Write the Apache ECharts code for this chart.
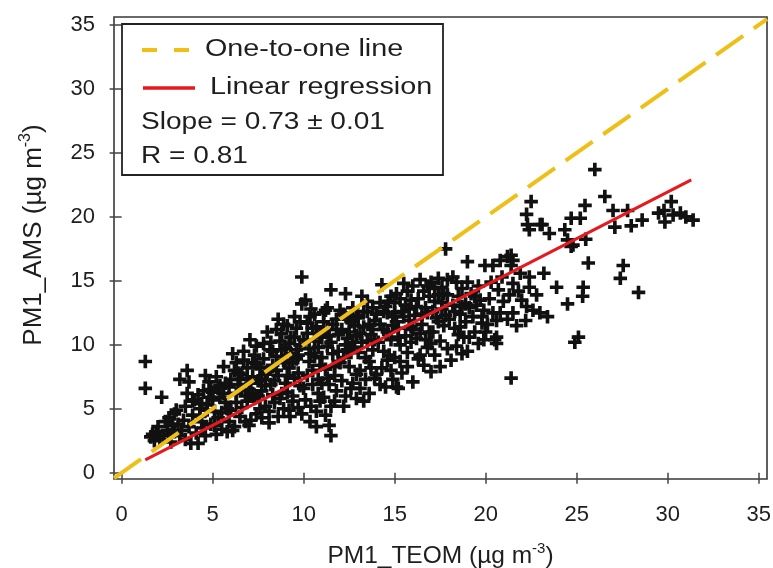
<!DOCTYPE html>
<html>
<head>
<meta charset="utf-8">
<script src="https://cdn.jsdelivr.net/npm/echarts@6/dist/echarts.min.js"></script>
<style>html,body{margin:0;padding:0;background:#fff}#chart{width:773px;height:568px}</style>
</head>
<body>
<div id="chart"></div>
<script>
// ---- data ----
const xTicks = [0, 5, 10, 15, 20, 25, 30, 35];
const yTicks = [0, 5, 10, 15, 20, 25, 30, 35];
const xTitle = 'PM1_TEOM (µg m';
const yTitle = 'PM1_AMS (µg m';
const legendLabels = ['One-to-one line', 'Linear regression', 'Slope = 0.73 ± 0.01', 'R = 0.81'];
const oneToOneLine = [[-0.42, -0.42], [35.46, 35.46]];
const regressionLine = [[1.3, 1.0], [31.3, 22.9]];
// PM1_TEOM (x) vs PM1_AMS (y) pairs
const scatterPoints = [
  [1.3,8.7],[1.3,6.6],[1.6,2.8],[1.9,3.2],[1.8,2.5],[2.0,3.6],[1.7,3.0],
  [2.2,5.9],[2.4,4.0],[2.6,4.3],[2.1,2.6],[2.5,3.3],[2.8,3.7],[2.3,2.9],[2.7,2.4],[2.9,4.6],[2.6,3.0],[2.9,3.2],
  [3.0,4.9],[3.2,7.3],[3.6,8.0],[3.7,7.1],[3.6,6.2],[3.5,5.2],[3.3,3.3],[3.8,2.3],[3.4,4.1],[3.9,4.5],[3.1,3.8],[3.7,3.6],[3.5,2.6],[3.9,5.6],[3.2,2.9],
  [4.0,5.7],[4.6,7.6],[4.8,7.1],[4.9,6.5],[4.2,2.3],[4.3,4.4],[4.5,3.5],[4.1,3.1],[4.7,4.9],[4.4,5.4],[4.9,3.8],[4.6,2.9],[4.2,6.1],[4.8,5.9],[4.4,4.0],
  [4.3,5.0],[4.7,5.3],[5.0,6.3],[5.4,6.8],[5.7,5.5],[4.5,6.4],[5.1,3.7],
  [5.0,5.7],[5.2,7.5],[5.6,6.2],[5.3,4.3],[5.5,3.4],[5.8,5.0],[5.1,4.8],[5.7,7.0],[5.4,5.9],[5.9,4.0],[5.2,3.0],[5.6,8.3],[5.9,6.7],[5.3,6.6],[5.8,3.2],[5.5,4.7],
  [6.0,7.3],[6.2,8.0],[6.1,9.3],[6.7,8.8],[6.3,5.5],[6.5,4.4],[6.8,6.0],[6.4,6.9],[6.9,7.4],[6.2,3.6],[6.6,5.1],[6.0,4.9],[6.8,4.0],[6.4,7.8],[6.9,5.6],[6.6,6.5],[6.3,6.2],[6.1,3.3],[6.7,9.5],
  [6.5,7.3],[6.9,8.2],[7.1,7.0],[7.4,8.5],[7.7,7.3],[6.3,8.6],[7.2,6.2],[6.6,7.7],
  [7.05,10.4],[7.8,10.1],[7.2,8.6],[7.5,7.2],[7.0,6.5],[7.3,5.8],[7.7,6.4],[7.9,5.2],[7.4,4.6],[7.6,8.2],[7.1,4.1],[7.9,7.7],[7.3,9.2],[7.6,5.0],[7.8,8.9],[7.2,7.5],[7.5,6.0],[7.0,3.7],[7.7,4.3],[7.4,9.9],[7.9,6.8],
  [8.15,9.6],[8.5,9.1],[8.0,11.0],[8.3,8.4],[8.6,7.6],[8.2,6.9],[8.8,6.2],[8.4,5.5],[8.9,5.0],[8.1,4.8],[8.7,10.3],[8.5,11.2],[8.0,7.9],[8.9,8.8],[8.3,6.1],[8.6,4.4],[8.2,10.2],[8.8,9.6],[8.4,7.2],[8.7,5.8],[8.1,3.9],[8.6,12.0],
  [8.3,9.5],[8.8,10.9],[9.2,10.1],[9.4,8.6],[9.7,9.2],[8.5,8.0],[9.1,7.6],[8.9,11.6],[9.8,11.8],[9.5,10.6],
  [9.25,4.4],[9.0,9.8],[9.3,10.6],[9.6,11.3],[9.9,13.2],[9.9,15.3],[9.2,8.2],[9.5,7.4],[9.8,6.8],[9.1,6.3],[9.4,5.6],[9.7,5.1],[9.0,7.0],[9.6,8.9],[9.3,9.3],[9.8,10.0],[9.5,12.2],[9.1,11.5],[9.7,7.8],[9.4,6.0],[9.9,4.6],[9.2,4.9],[9.6,9.6],[9.0,8.6],
  [10.1,13.5],[10.35,12.2],[10.7,11.4],[10.35,4.0],[10.0,10.4],[10.3,9.7],[10.6,9.1],[10.9,8.4],[10.2,7.6],[10.5,6.9],[10.8,6.2],[10.1,5.7],[10.4,5.2],[10.7,4.8],[10.9,10.9],[10.2,11.7],[10.5,8.0],[10.8,7.3],[10.0,6.6],[10.6,10.3],[10.3,8.7],[10.9,5.6],[10.4,12.8],[10.7,3.6],
  [10.2,10.9],[10.5,11.3],[10.8,9.8],[11.1,11.8],[11.4,10.7],[11.7,8.3],[10.4,9.3],[11.0,9.0],[11.8,11.2],[11.3,12.9],[10.6,12.4],
  [11.1,12.5],[11.3,11.2],[11.5,14.3],[11.2,12.7],[11.5,5.2],[11.4,3.7],[11.5,2.9],[11.0,10.6],[11.3,9.9],[11.6,9.3],[11.9,8.7],[11.2,8.1],[11.7,7.6],[11.4,6.9],[11.8,6.4],[11.1,5.9],[11.6,11.6],[11.9,10.8],[11.3,7.4],[11.8,12.0],[11.0,7.0],[11.7,5.6],[11.5,10.2],[11.9,9.5],[11.2,4.5],
  [12.0,12.7],[12.3,14.0],[12.7,12.9],[12.1,11.2],[12.4,10.5],[12.8,9.8],[12.2,9.0],[12.5,8.3],[12.9,7.7],[12.1,7.2],[12.6,6.6],[12.3,6.0],[12.8,11.5],[12.4,12.1],[12.9,10.7],[12.0,8.6],[12.6,9.4],[12.2,5.2],[12.7,7.0],[12.5,11.0],[12.9,5.8],[12.3,10.0],
  [12.2,12.4],[12.6,11.8],[12.9,12.3],[13.3,12.6],[13.6,11.6],[13.9,10.4],[12.4,9.6],[13.1,10.9],[12.7,10.2],[13.5,13.4],[13.8,11.2],
  [13.2,13.8],[13.6,8.7],[13.1,8.0],[13.4,7.3],[13.0,12.1],[13.3,11.4],[13.7,10.8],[13.5,12.6],[13.9,11.9],[13.2,10.2],[13.8,9.6],[13.4,9.0],[13.1,6.6],[13.6,6.2],[13.9,7.4],[13.0,9.4],[13.5,10.3],[13.8,12.9],[13.3,5.6],[13.7,8.2],
  [14.3,14.7],[14.65,13.4],[14.5,6.7],[14.9,7.3],[14.6,8.8],[14.0,12.4],[14.2,11.6],[14.6,11.0],[14.9,12.2],[14.1,10.2],[14.4,9.5],[14.8,10.4],[14.3,8.2],[14.7,9.2],[14.0,7.7],[14.5,13.0],[14.9,11.5],[14.2,6.9],[14.8,8.0],[14.4,12.6],
  [14.2,13.3],[14.6,12.5],[15.0,12.5],[15.3,13.6],[15.6,13.1],[15.9,11.4],[14.4,11.2],[14.8,13.8],[15.2,10.6],[15.7,14.2],
  [15.1,6.7],[15.2,6.6],[15.5,14.8],[15.1,14.0],[15.3,8.7],[15.7,8.3],[15.0,13.3],[15.4,12.6],[15.8,11.9],[15.2,11.3],[15.6,10.7],[15.9,13.5],[15.3,10.0],[15.7,9.4],[15.0,9.0],[15.5,12.2],[15.9,10.2],[15.4,7.8],[15.8,12.8],[15.1,11.8],
  [16.0,7.1],[16.4,15.1],[16.6,8.4],[16.0,14.6],[16.3,13.6],[16.7,12.9],[16.1,12.3],[16.5,11.6],[16.9,11.0],[16.2,10.5],[16.8,9.8],[16.4,9.2],[16.9,13.8],[16.6,14.2],[16.0,11.2],[16.7,10.4],[16.3,8.9],[16.8,12.5],
  [16.2,13.0],[16.5,12.4],[16.8,14.6],[17.1,12.6],[17.4,11.8],[17.7,14.0],[16.4,10.9],[17.2,14.4],[17.6,13.3],
  [17.0,14.9],[17.4,15.2],[17.6,14.5],[17.9,15.1],[17.8,17.5],[17.5,8.3],[17.0,7.9],[17.2,13.4],[17.6,12.8],[17.9,13.9],[17.3,12.1],[17.7,11.5],[17.1,11.0],[17.5,10.3],[17.9,9.7],[17.2,9.2],[17.8,12.3],[17.4,13.9],[17.0,10.1],
  [18.1,8.8],[18.5,13.8],[18.7,14.4],[18.2,13.1],[18.6,12.4],[18.9,11.8],[18.3,11.3],[18.8,10.6],[18.4,9.9],[18.9,13.2],[18.0,12.0],[18.5,10.8],[18.2,15.3],[18.7,9.3],[18.4,14.9],
  [18.3,12.6],[18.7,13.0],[19.1,12.9],[19.4,13.8],[18.6,11.4],[19.8,12.2],
  [19.0,16.5],[19.0,14.9],[19.0,9.5],[19.6,10.1],[19.9,10.4],[19.96,16.2],[19.7,13.5],[19.9,12.7],[19.3,12.2],[19.5,13.1],[19.8,11.7],[19.4,11.0],[19.2,14.0],[19.6,14.6],[19.1,10.6],[20.0,11.0],
  [20.4,16.2],[20.8,16.6],[20.2,13.6],[20.4,12.5],[20.8,12.5],[20.6,11.9],[20.5,10.4],[20.6,10.6],[20.6,10.1],[20.3,14.9],[20.7,14.3],[20.9,15.3],[20.1,11.6],[20.97,13.4],
  [21.2,16.9],[21.5,16.6],[21.4,16.2],[21.4,17.0],[21.5,14.8],[21.9,15.6],[21.5,12.5],[21.98,13.5],[21.4,7.4],[21.3,13.9],[21.7,11.5],[21.2,12.0],[21.8,14.2],
  [22.5,21.2],[22.25,20.2],[22.3,19.4],[22.4,19.0],[22.4,15.3],[22.4,14.5],[22.25,13.0],[22.6,12.7],[22.98,12.5],[22.8,13.9],[22.2,11.9],
  [23.1,19.4],[23.5,18.7],[23.2,15.6],[23.9,14.5],[23.4,12.2],[23.0,19.4],
  [24.35,19.0],[24.5,18.2],[24.7,17.7],[24.8,17.8],[24.7,19.9],[24.5,13.2],[24.9,10.2],
  [25.2,19.9],[25.46,20.9],[25.5,18.25],[25.64,16.4],[25.36,14.5],[25.33,13.8],[25.1,10.6],[26.0,23.7],
  [26.55,21.6],[27.0,20.5],[27.1,19.2],[27.56,16.2],[27.4,15.2],[27.8,20.5],[28.0,19.3],[28.4,14.1],[28.6,19.75],
  [29.5,20.3],[29.8,20.5],[29.85,19.6],[30.2,21.2],[30.3,20.15],[30.7,20.3],[31.0,20.0],[31.4,19.75]
];

// ---- chart ----
const FONT = '"Liberation Sans", Arial, sans-serif';
const TXT = '#1e1e1e';
const PLUS = 'path://M3.65,0H6.35V3.65H10V6.35H6.35V10H3.65V6.35H0V3.65H3.65Z';
const chart = echarts.init(document.getElementById('chart'), null, { renderer: 'canvas' });

const LX = 122, LY = 24, LW = 321, LH = 151;
chart.setOption({
  animation: false,
  backgroundColor: '#fff',
  grid: { left: 114, top: 17, right: 6, bottom: 89, containLabel: false, outerBoundsMode: 'none',
    show: true, borderColor: '#383838', borderWidth: 1.6, backgroundColor: 'transparent' },
  xAxis: {
    type: 'value', min: -0.42, max: 35.46,
    axisLine: { show: false },
    splitLine: { show: false },
    axisTick: { show: true, inside: false, length: 11, customValues: xTicks, lineStyle: { color: '#444', width: 1.5 } },
    axisLabel: { customValues: xTicks, fontSize: 22, fontFamily: FONT, color: TXT, margin: 25 },
    name: xTitle + '{sup|-3})', nameLocation: 'middle', nameGap: 62,
    nameTextStyle: { fontSize: 24.5, fontFamily: FONT, color: TXT, lineHeight: 30,
      rich: { sup: { fontSize: 15, fontFamily: FONT, color: TXT, verticalAlign: 'top', lineHeight: 30 } } }
  },
  yAxis: {
    type: 'value', min: -0.49, max: 35.63,
    axisLine: { show: false },
    splitLine: { show: false },
    axisTick: { show: true, inside: false, length: 12, customValues: yTicks, lineStyle: { color: '#444', width: 1.5 } },
    axisLabel: { customValues: yTicks, fontSize: 22, fontFamily: FONT, color: TXT, margin: 19 },
    name: yTitle + '{sup|-3})', nameLocation: 'middle', nameGap: 64, nameRotate: 90,
    nameTextStyle: { fontSize: 26, fontFamily: FONT, color: TXT, lineHeight: 32, padding: [0, 0, 0, 26],
      rich: { sup: { fontSize: 16, fontFamily: FONT, color: TXT, verticalAlign: 'top', lineHeight: 32 } } }
  },
  series: [
    {
      type: 'scatter', name: 'data', data: scatterPoints,
      symbol: PLUS, symbolSize: 13.5,
      itemStyle: { color: '#111', opacity: 1 }, z: 2
    },
    {
      type: 'line', name: legendLabels[0], data: oneToOneLine, symbol: 'none',
      lineStyle: { color: '#EFBE17', width: 4, type: [33, 13] }, z: 3
    },
    {
      type: 'line', name: legendLabels[1], data: regressionLine, symbol: 'none',
      lineStyle: { color: '#E5191E', width: 3 }, z: 4
    }
  ],
  graphic: [
    { type: 'rect', shape: { x: LX, y: LY, width: LW, height: LH }, style: { fill: '#fff', stroke: '#222', lineWidth: 1.8 }, z: 10 },
    { type: 'line', shape: { x1: 142, y1: 50, x2: 192, y2: 50 }, style: { stroke: '#EFBE17', lineWidth: 4, lineDash: [15, 17] }, z: 11 },
    { type: 'text', x: 205, y: 50, scaleX: 1.25, style: { text: legendLabels[0], font: '23px ' + FONT, fill: TXT, verticalAlign: 'middle' }, z: 11 },
    { type: 'line', shape: { x1: 143, y1: 88, x2: 195, y2: 88 }, style: { stroke: '#E5191E', lineWidth: 3.5 }, z: 11 },
    { type: 'text', x: 210, y: 88, scaleX: 1.25, style: { text: legendLabels[1], font: '23px ' + FONT, fill: TXT, verticalAlign: 'middle' }, z: 11 },
    { type: 'text', x: 141, y: 123, scaleX: 1.22, style: { text: legendLabels[2], font: '23px ' + FONT, fill: TXT, verticalAlign: 'middle' }, z: 11 },
    { type: 'text', x: 141, y: 157, scaleX: 1.22, style: { text: legendLabels[3], font: '23px ' + FONT, fill: TXT, verticalAlign: 'middle' }, z: 11 }
  ]
});
</script>
</body>
</html>
